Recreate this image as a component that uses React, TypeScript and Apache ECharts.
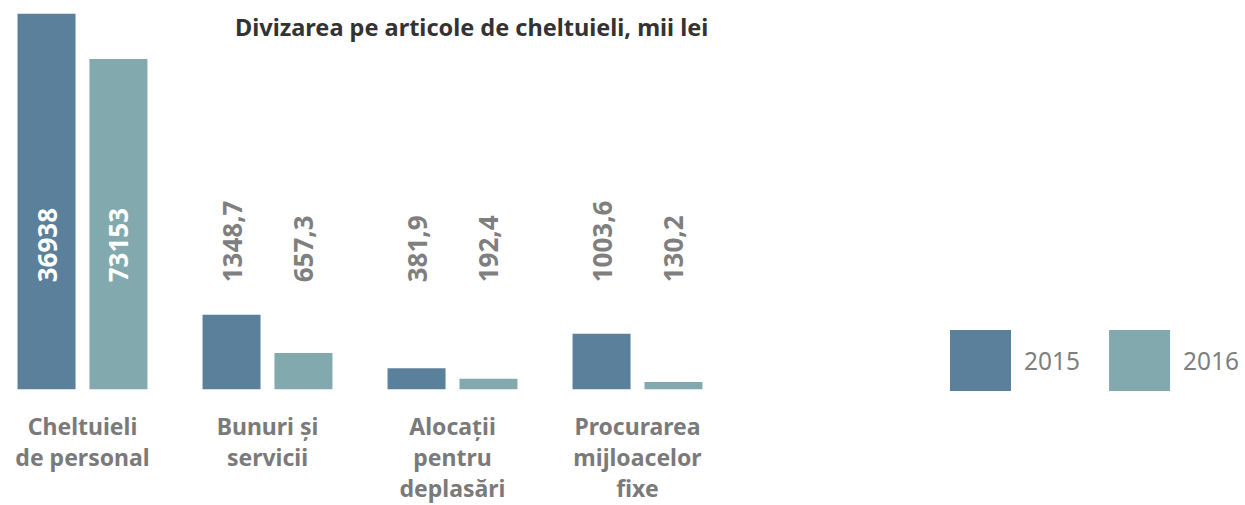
import React, { useEffect, useRef } from "react";
import * as echarts from "echarts";

const categories = [
  "Cheltuieli\nde personal",
  "Bunuri și\nservicii",
  "Alocații\npentru\ndeplasări",
  "Procurarea\nmijloacelor\nfixe",
];
const seriesNames = ["2015", "2016"];
// values printed on the bars (mii lei)
const labels2015 = [36938, 1348.7, 381.9, 1003.6];
const labels2016 = [73153, 657.3, 192.4, 130.2];
// bar lengths as drawn in the picture (the two first bars are not to scale in the source)
const bars2015 = [6790, 1348.7, 381.9, 1003.6];
const bars2016 = [5975, 657.3, 192.4, 130.2];
const colors = ["#5a809b", "#82aaae"];
const titleText = "Divizarea pe articole de cheltuieli, mii lei";

const FONT = "'Noto Sans', sans-serif";
const SHIFT = 10; // the chart div starts 10px left of the page edge

function fmt(v: number) {
  return String(v).replace(".", ",");
}

function makeSeries(name: string, bars: number[], labels: number[], color: string) {
  return {
    name,
    type: "bar",
    barWidth: 58,
    barGap: "24%",
    itemStyle: { color },
    data: bars.map((b, i) => {
      const big = b > 2000;
      return {
        value: b,
        label: {
          show: true,
          position: "insideBottom",
          distance: 107,
          rotate: 90,
          align: "left",
          verticalAlign: "middle",
          formatter: () => fmt(labels[i]),
          color: big ? "#ffffff" : "#7f7f7f",
          fontFamily: FONT,
          fontWeight: "bold",
          fontSize: 26,
        },
      };
    }),
  };
}

export default function App() {
  const ref = useRef<HTMLDivElement>(null);
  useEffect(() => {
    if (!ref.current) return;
    const chart = echarts.init(ref.current, null, { renderer: "svg" });
    chart.setOption({
      animation: false,
      backgroundColor: "#ffffff",
      title: {
        text: titleText,
        left: 235 + SHIFT,
        top: 15,
        padding: 0,
        textStyle: { fontFamily: FONT, fontWeight: "bold", fontSize: 23.5, color: "#333333" },
      },
      legend: {
        left: 950 + SHIFT,
        top: 330,
        padding: 0,
        orient: "horizontal",
        icon: "rect",
        itemWidth: 61,
        itemHeight: 61,
        itemGap: 29,
        data: seriesNames,
        textStyle: {
          fontFamily: FONT,
          fontSize: 24.5,
          color: "#7f7f7f",
          padding: [0, 0, 0, 8],
        },
      },
      grid: { left: 0, width: 740, top: 2.2, bottom: 115.7, containLabel: false },
      xAxis: {
        type: "category",
        data: categories,
        axisLine: { show: false },
        axisTick: { show: false },
        axisLabel: {
          margin: 21,
          interval: 0,
          fontFamily: FONT,
          fontWeight: "bold",
          fontSize: 23,
          lineHeight: 31,
          color: "#7a7a7a",
        },
      },
      yAxis: {
        type: "value",
        min: 0,
        max: 7000,
        show: false,
        splitLine: { show: false },
      },
      series: [
        makeSeries(seriesNames[0], bars2015, labels2015, colors[0]),
        makeSeries(seriesNames[1], bars2016, labels2016, colors[1]),
      ],
    });
    return () => chart.dispose();
  }, []);
  return (
    <div
      ref={ref}
      style={{ position: "fixed", left: -SHIFT, top: 0, width: 1245 + SHIFT, height: 505 }}
    />
  );
}
